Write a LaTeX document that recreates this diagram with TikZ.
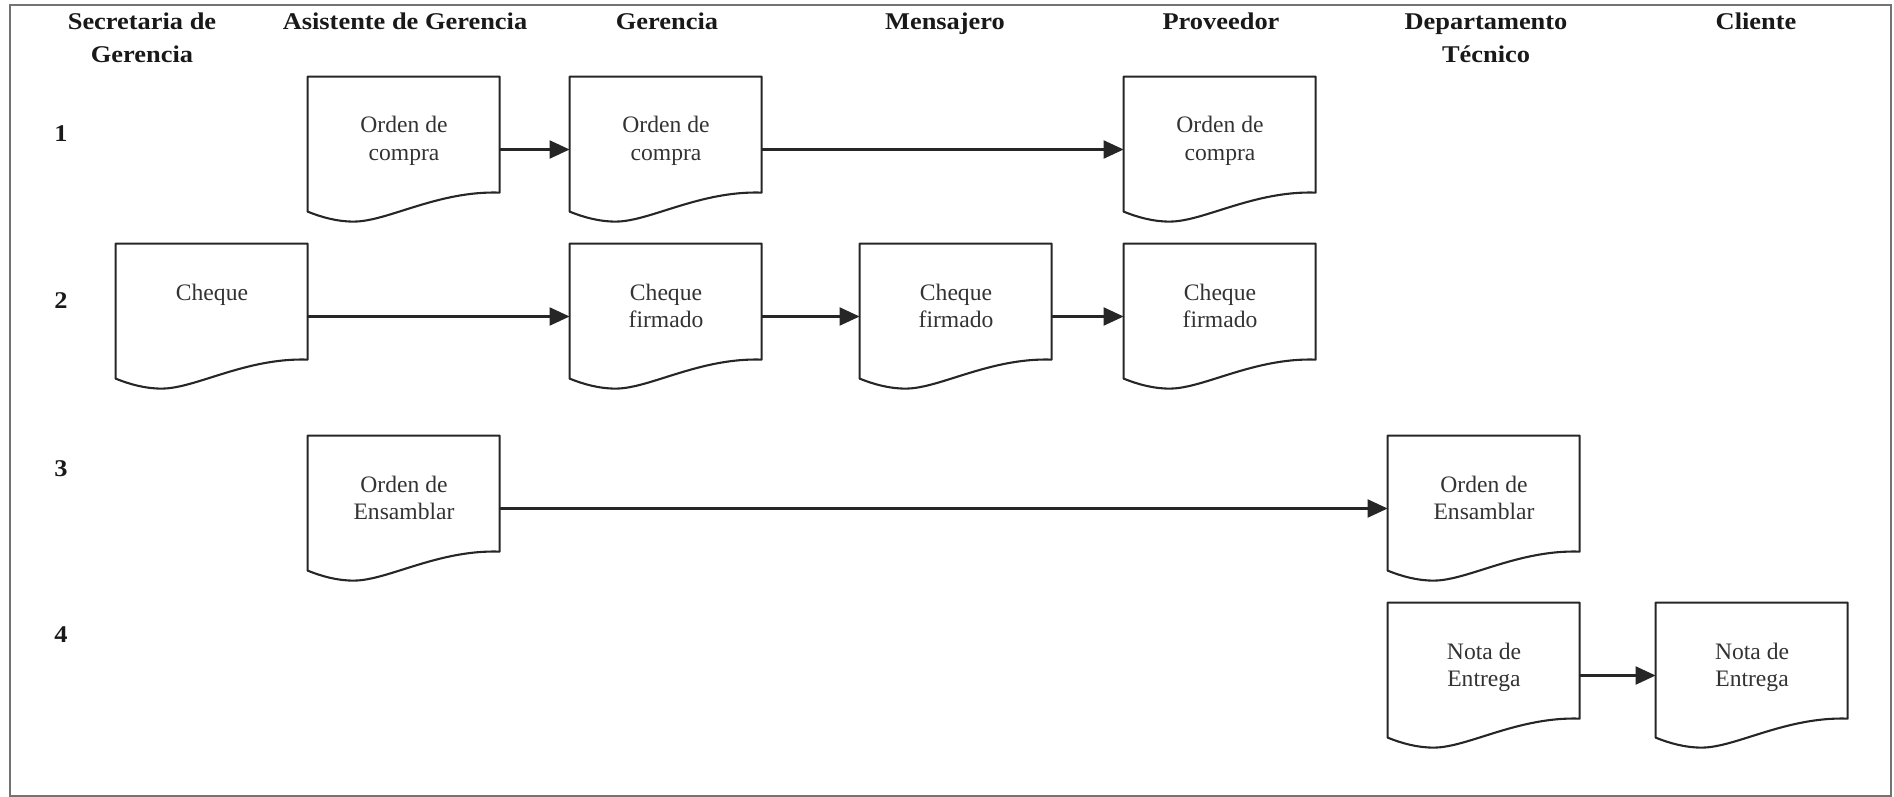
\documentclass[tikz,border=0pt]{standalone}
\usepackage{fontspec}
\setmainfont{Liberation Serif}
\newfontfamily\hdfont[FakeStretch=1.1]{Liberation Serif}
\usetikzlibrary{arrows.meta}
\tikzset{
  docarea/.style={rectangle, inner sep=0pt, minimum width=96pt, minimum height=72.5pt},
  docline/.style={draw=black!85, line width=1.05pt, line join=round},
  doctext/.style={anchor=base, inner sep=0pt, text=black!80, font=\fontsize{11.8}{13.5}\selectfont},
  hdr/.style={anchor=base, inner sep=0pt, text=black!90, font=\hdfont\bfseries\fontsize{12}{16.5}\selectfont},
  flow/.style={draw=black!85, line width=1.05pt, -{Triangle[length=10pt,width=9pt]}},
  framebox/.style={draw=black!55, line width=0.8pt},
}
\newcommand\docshape[4]{%
  \node[docarea] (#1) at (#2+96,#3+72.5) {};
  \draw[docline, shift={(#1.north west)}] (0,0) -- (192,0) -- (192,116)
    .. controls (130,114) and (80,145) .. (46,145)
    .. controls (30,145) and (15,141) .. (0,135) -- cycle;
  \node[doctext] (#1-t) at (#2+96,#3+56) {\begin{tabular}[t]{@{}c@{}}#4\end{tabular}};
}
\begin{document}
\begin{tikzpicture}[x=0.5pt,y=-0.5pt]
\useasboundingbox (0,0) rectangle (1894,797);
\draw[framebox] (10,5) rectangle (1891,796);

% headers
\node[hdr] (h-sec)  at (142,30)  {\begin{tabular}[t]{@{}c@{}}Secretaria de\\Gerencia\end{tabular}};
\node[hdr] (h-asis) at (405,30)  {Asistente de Gerencia};
\node[hdr] (h-ger)  at (667,30)  {Gerencia};
\node[hdr] (h-men)  at (945,30)  {Mensajero};
\node[hdr] (h-prov) at (1221,30) {Proveedor};
\node[hdr] (h-dept) at (1486,30) {\begin{tabular}[t]{@{}c@{}}Departamento\\T\'ecnico\end{tabular}};
\node[hdr] (h-cli)  at (1756,30) {Cliente};

% row numbers
\node[hdr] (r1) at (61,141) {1};
\node[hdr] (r2) at (61,308) {2};
\node[hdr] (r3) at (61,476) {3};
\node[hdr] (r4) at (61,642) {4};

% documents
\docshape{asis1}{308}{77}{Orden de\\compra}
\docshape{ger1}{570}{77}{Orden de\\compra}
\docshape{prov1}{1124}{77}{Orden de\\compra}

\docshape{sec2}{116}{244}{Cheque}
\docshape{ger2}{570}{244}{Cheque\\firmado}
\docshape{men2}{860}{244}{Cheque\\firmado}
\docshape{prov2}{1124}{244}{Cheque\\firmado}

\docshape{asis3}{308}{436}{Orden de\\Ensamblar}
\docshape{dept3}{1388}{436}{Orden de\\Ensamblar}

\docshape{dept4}{1388}{603}{Nota de\\Entrega}
\docshape{cli4}{1656}{603}{Nota de\\Entrega}

% connectors
\draw[flow] (asis1.east) -- (ger1.west);
\draw[flow] (ger1.east) -- (prov1.west);
\draw[flow] (sec2.east) -- (ger2.west);
\draw[flow] (ger2.east) -- (men2.west);
\draw[flow] (men2.east) -- (prov2.west);
\draw[flow] (asis3.east) -- (dept3.west);
\draw[flow] (dept4.east) -- (cli4.west);
\end{tikzpicture}
\end{document}
